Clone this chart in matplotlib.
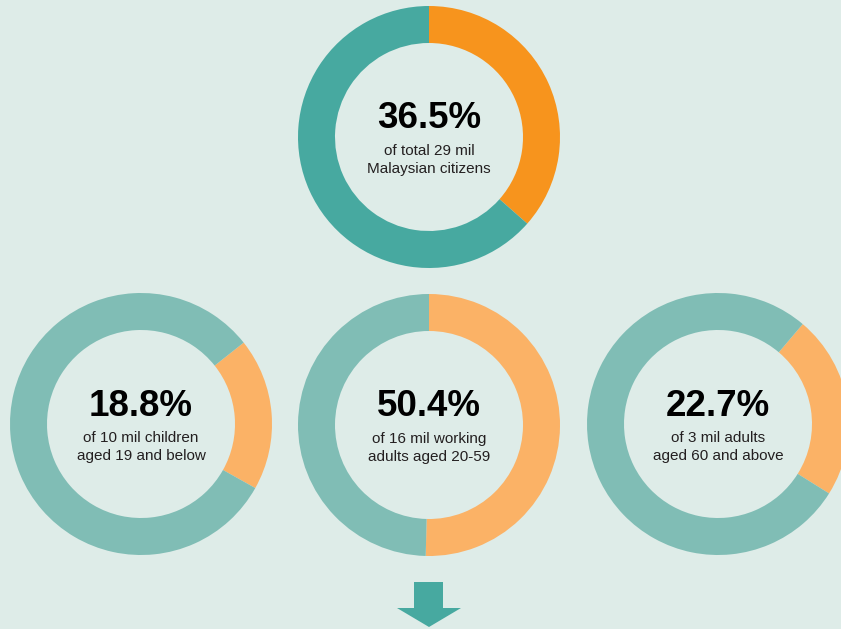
import matplotlib
matplotlib.use("Agg")
import matplotlib.pyplot as plt

# share of each group (percent), orange part
pcts = [36.5, 18.8, 50.4, 22.7]
big_labels = ["36.5%", "18.8%", "50.4%", "22.7%"]
sub_labels = ["of total 29 mil\nMalaysian citizens",
              "of 10 mil children\naged 19 and below",
              "of 16 mil working\nadults aged 20-59",
              "of 3 mil adults\naged 60 and above"]
# layout (pixels), start angle of the orange slice
centers = [(429, 137), (141, 424), (429, 425), (718, 424)]
starts = [90, 38.4, 90, 49.7]
teal = ["#47a9a0", "#80bdb5", "#80bdb5", "#80bdb5"]
orange = ["#f7941d", "#fbb266", "#fbb266", "#fbb266"]

bg = "#deece8"
W, H = 841, 629
fig = plt.figure(figsize=(W / 100, H / 100), dpi=100, facecolor=bg)
ax = fig.add_axes([0, 0, 1, 1])
ax.set_facecolor(bg)

R = 131
for i in range(4):
  cx, cy = centers[i]
  ax.pie([pcts[i], 100 - pcts[i]], center=(cx, H - cy), radius=R,
         startangle=starts[i], counterclock=False,
         colors=[orange[i], teal[i]],
         wedgeprops=dict(width=R - 94, linewidth=0))
  ax.text(cx, H - cy + 18, big_labels[i], ha="center", va="center",
          fontsize=26.5, fontweight="bold", family="Liberation Sans", color="black")
  ax.text(cx, H - cy - 23, sub_labels[i], ha="center", va="center",
          fontsize=11, family="Liberation Sans", color="#231f20", linespacing=1.45)

# down arrow
ax.fill([414, 443, 443, 461, 429, 397, 414],
        [H - 582, H - 582, H - 608, H - 608, H - 627, H - 608, H - 608],
        color="#47a9a0", linewidth=0)

ax.set_xlim(0, W)
ax.set_ylim(0, H)
ax.set_aspect("equal")
ax.axis("off")
fig.savefig("out.png", dpi=100, facecolor=bg)
